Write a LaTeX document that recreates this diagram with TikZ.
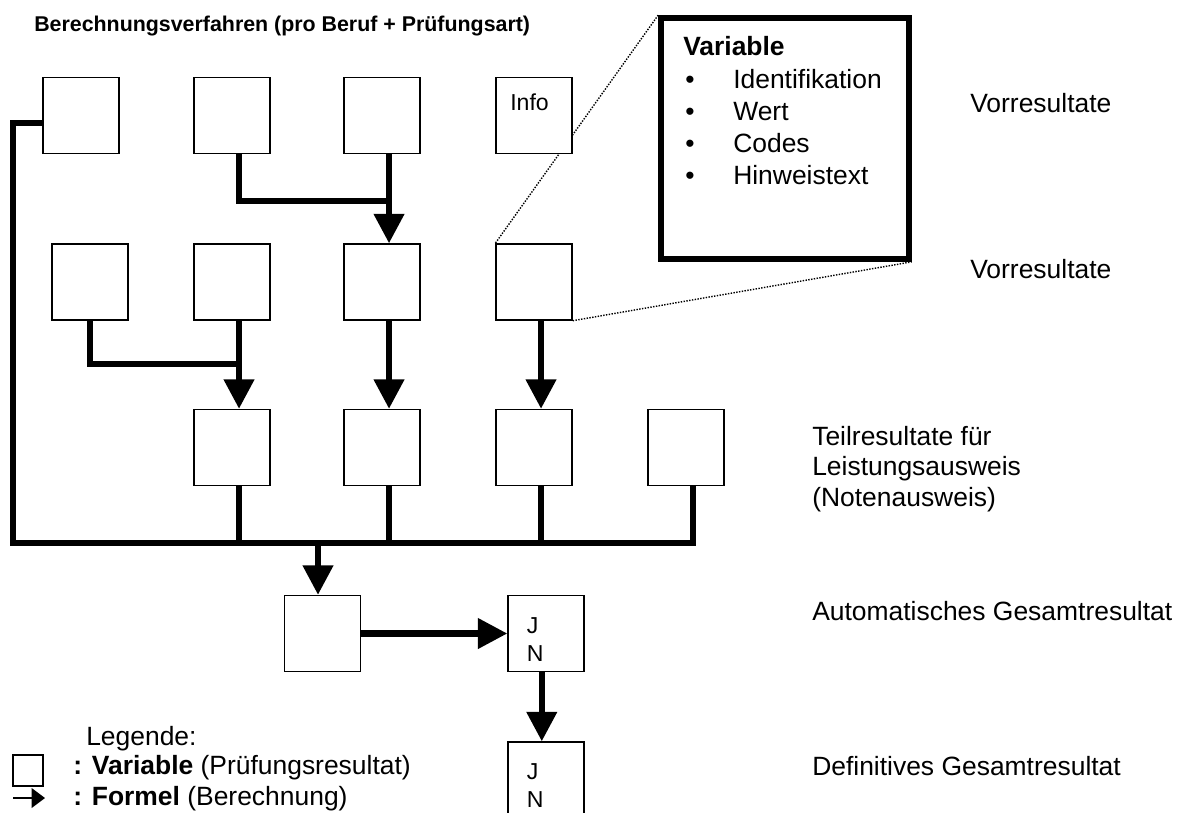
\documentclass[tikz,border=0pt]{standalone}
\usepackage{fontspec}
\setmainfont{Liberation Sans}
\usetikzlibrary{arrows.meta,backgrounds}

\newcommand{\txtbig}{\fontsize{18.8}{21.7}\selectfont}
\newcommand{\txtsmall}{\fontsize{16.4}{19.9}\selectfont}
\newcommand{\txttitle}{\fontsize{15.2}{18}\selectfont\bfseries}

\tikzset{
  box/.style={draw, line width=1pt, fill=white, minimum width=1.9cm,
    minimum height=1.9cm, inner sep=0pt},
  flow/.style={line width=4.3pt},
  flowarrow/.style={line width=4.3pt, -{Triangle[length=21pt,width=21pt]}},
  lbl/.style={font=\txtbig, inner sep=0pt, anchor=base west},
}

\begin{document}
\begin{tikzpicture}[x=0.025cm, y=-0.025cm]
    \useasboundingbox (0,0) rectangle (1179,812);

    \node[lbl, font=\txttitle] (title) at (34,31)
      {Berechnungsverfahren (pro Beruf + Prüfungsart)};

    % boxes
    \foreach \x [count=\i] in {81,232,382,534}
      \node[box] (r1c\i) at (\x,115.5) {};
    \foreach \x [count=\i] in {90,232,382,534}
      \node[box] (r2c\i) at (\x,282) {};
    \foreach \x [count=\i] in {232,382,534,686}
      \node[box] (r3c\i) at (\x,447.5) {};
    \node[box] (auto) at (322.5,633.5) {};
    \node[box] (jn1) at (546,633.5) {};
    \node[box] (jn2) at (546,780) {};

    \node[lbl, font=\txtsmall] (info) at (510,110) {Info};
    \foreach \b in {jn1,jn2} {
      \node[lbl, font=\txtsmall] (\b-j) at ([shift={(-19.5,-0.5)}]\b.center) {J};
      \node[lbl, font=\txtsmall] (\b-n) at ([shift={(-19.5,27.5)}]\b.center) {N};
    }

    % the variable
    \node[draw, line width=4pt, fill=white, minimum width=6.2cm,
      minimum height=6.025cm, inner sep=0pt] (var) at (785,138.5) {};
    \node[lbl, font=\txtbig\bfseries] (vtitle) at (683,55) {Variable};
    \foreach \t [count=\i] in {Identifikation,Wert,Codes,Hinweistext} {
      \node[lbl] (item\i) at (733,56+32*\i) {\t};
      \node[lbl, anchor=base] (dot\i) at (690,56+32*\i) {\textbullet};
    }

    \begin{scope}[on background layer]
      \fill[white] (0,0) rectangle (1179,812);
      \draw[densely dotted, line width=1pt] (var.north west) -- (r2c4.north west);
      \draw[densely dotted, line width=1pt] (r2c4.south east) -- (var.south east);
    \end{scope}

    % formulas
    \coordinate (busL) at (13,543);
    \coordinate (busR) at (693,543);
    \coordinate (busM) at (318,543);
    \coordinate (k1) at (390,201);
    \coordinate (k2) at (239,364);

    \draw[flow] ([yshift=-5.3pt]r1c1.west) -| (busL) -- (busR);
    \foreach \i in {1,...,4}
      \draw[flow] ([xshift=5pt]r3c\i.south) |- (busR);
    \draw[flowarrow] (busM) -- (busM |- auto.north);
    \draw[flowarrow] (auto.east) -- (jn1.west);
    \draw[flowarrow] ([xshift=-3pt]jn1.south) -- ([xshift=-3pt]jn2.north);

    \draw[flow] ([xshift=5pt]r1c2.south) |- (k1);
    \draw[flowarrow] ([xshift=5pt]r1c3.south) -- ([xshift=5pt]r2c3.north);
    \draw[flow] (r2c1.south) |- (k2);
    \foreach \i/\j in {2/1,3/2,4/3}
      \draw[flowarrow] ([xshift=5pt]r2c\i.south) -- ([xshift=5pt]r3c\j.north);

    % levels
    \node[lbl] (vor1) at (970,112) {Vorresultate};
    \node[lbl] (vor2) at (970,278) {Vorresultate};
    \node[lbl, anchor=north west, align=left] (teil) at (812,426)
      {Teilresultate für\\Leistungsausweis\\(Notenausweis)};
    \node[lbl] (autotxt) at (812,620) {Automatisches Gesamtresultat};
    \node[lbl] (deftxt) at (812,775) {Definitives Gesamtresultat};

    % legend
    \node[lbl] (leg) at (86,745) {Legende:};
    \node[box, minimum width=0.75cm, minimum height=0.775cm] (legbox) at (28,770.5) {};
    \node[lbl] (legvar) at (73,774) {\textbf{: Variable} (Prüfungsresultat)};
    \coordinate (legA) at (13,798);
    \coordinate (legB) at (45,798);
    \draw[line width=1pt, -{Triangle[length=9.5pt,width=14pt]}] (legA) -- (legB);
    \node[lbl] (legform) at (73,805) {\textbf{: Formel} (Berechnung)};
  \end{tikzpicture}
\end{document}
